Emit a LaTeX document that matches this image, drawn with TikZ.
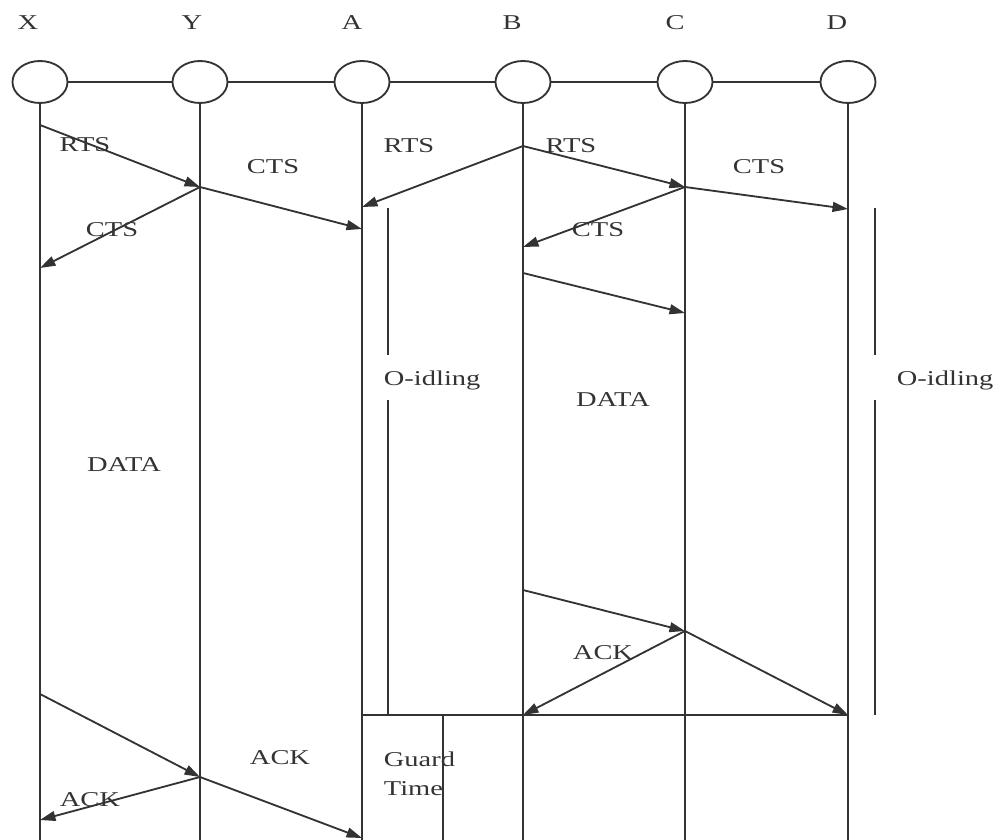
\documentclass[tikz,border=0pt]{standalone}
\usepackage{fontspec}
\setmainfont{Liberation Serif}[FakeStretch=1.35]
\usetikzlibrary{shapes.geometric, arrows.meta}

\begin{document}
\begin{tikzpicture}[
    x=0.025cm, y=-0.025cm,
    line width=1.3pt, color=black!80,
    station/.style={draw, ellipse, minimum width=1.375cm, minimum height=1.05cm, inner sep=0pt},
    name text/.style={font=\fontsize{15}{17}\selectfont},
    msg/.style={-{Triangle[length=11pt, width=7pt]}},
    msg text/.style={font=\fontsize{15}{17}\selectfont, inner sep=0pt}
]
\useasboundingbox (0,0) rectangle (1001,840);

% Stations
\node[station] (X) at (40, 82) {};
\node[station] (Y) at (200, 82) {};
\node[station] (A) at (362, 82) {};
\node[station] (B) at (523, 82) {};
\node[station] (C) at (685, 82) {};
\node[station] (D) at (848, 82) {};

\node[name text] (Xname) at (28, 23) {X};
\node[name text] (Yname) at (192, 23) {Y};
\node[name text] (Aname) at (352, 23) {A};
\node[name text] (Bname) at (512, 23) {B};
\node[name text] (Cname) at (675, 23) {C};
\node[name text] (Dname) at (837, 23) {D};

\draw (X) -- (Y);
\draw (Y) -- (A);
\draw (A) -- (B);
\draw (B) -- (C);
\draw (C) -- (D);

% Lifelines
\coordinate (Xend) at (40, 840);
\coordinate (Yend) at (200, 840);
\coordinate (Aend) at (362, 840);
\coordinate (Bend) at (523, 840);
\coordinate (Cend) at (685, 840);
\coordinate (Dend) at (848, 840);
\draw (X) -- (Xend);
\draw (Y) -- (Yend);
\draw (A) -- (Aend);
\draw (B) -- (Bend);
\draw (C) -- (Cend);
\draw (D) -- (Dend);

% Events on the lifelines
\coordinate (X1) at (40, 125);
\coordinate (X2) at (40, 268);
\coordinate (X3) at (40, 694);
\coordinate (X4) at (40, 820);
\coordinate (Y1) at (200, 187);
\coordinate (Y2) at (200, 777);
\coordinate (A1) at (362, 207);
\coordinate (A2) at (362, 229);
\coordinate (A3) at (362, 715);
\coordinate (A4) at (362, 838);
\coordinate (B1) at (523, 146);
\coordinate (B2) at (523, 247);
\coordinate (B3) at (523, 273);
\coordinate (B4) at (523, 590);
\coordinate (B5) at (523, 715);
\coordinate (C1) at (685, 187);
\coordinate (C2) at (685, 313);
\coordinate (C3) at (685, 631);
\coordinate (D1) at (848, 209);
\coordinate (D2) at (848, 715);

% Messages X - Y - A
\draw[msg] (X1) -- (Y1);
\draw[msg] (Y1) -- (A2);
\draw[msg] (Y1) -- (X2);
\draw[msg] (X3) -- (Y2);
\draw[msg] (Y2) -- (X4);
\draw[msg] (Y2) -- (A4);

% Messages B - C - D
\draw[msg] (B1) -- (A1);
\draw[msg] (B1) -- (C1);
\draw[msg] (C1) -- (D1);
\draw[msg] (C1) -- (B2);
\draw[msg] (B3) -- (C2);
\draw[msg] (B4) -- (C3);
\draw[msg] (C3) -- (B5);
\draw[msg] (C3) -- (D2);

% Labels
\node[msg text] (rts1) at (85, 145) {RTS};
\node[msg text] (cts1) at (273, 167) {CTS};
\node[msg text] (cts2) at (112, 230) {CTS};
\node[msg text] (rts2) at (409, 146) {RTS};
\node[msg text] (rts3) at (571, 146) {RTS};
\node[msg text] (cts3) at (759, 167) {CTS};
\node[msg text] (cts4) at (598, 230) {CTS};
\node[msg text] (data1) at (124, 465) {DATA};
\node[msg text] (data2) at (613, 400) {DATA};
\node[msg text] (ack1) at (603, 653) {ACK};
\node[msg text] (ack2) at (280, 758) {ACK};
\node[msg text] (ack3) at (90, 800) {ACK};

% O-idling
\coordinate (OA1) at (388, 208);
\coordinate (OA2) at (388, 355);
\coordinate (OA3) at (388, 400);
\coordinate (OA4) at (388, 715);
\draw (OA1) -- (OA2);
\draw (OA3) -- (OA4);
\node[msg text, anchor=west] (idleA) at (383, 380) {O-idling};

\coordinate (OD1) at (875, 208);
\coordinate (OD2) at (875, 355);
\coordinate (OD3) at (875, 400);
\coordinate (OD4) at (875, 715);
\draw (OD1) -- (OD2);
\draw (OD3) -- (OD4);
\node[msg text, anchor=west] (idleD) at (896, 380) {O-idling};

% Guard time
\draw (A3) -- (D2);
\coordinate (G1) at (443, 715);
\coordinate (G2) at (443, 840);
\draw (G1) -- (G2);
\node[msg text, anchor=west, align=left] (guard) at (383, 774) {Guard\\[4pt]Time};

\end{tikzpicture}
\end{document}
